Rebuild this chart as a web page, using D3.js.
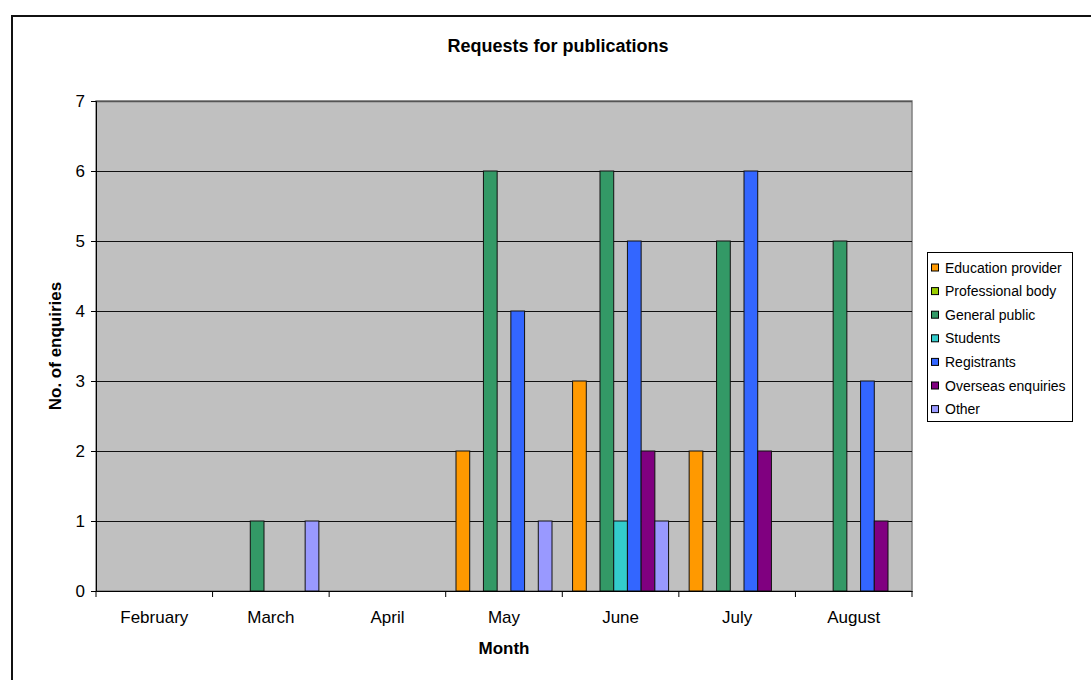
<!DOCTYPE html>
<html>
<head>
<meta charset="utf-8">
<script src="https://cdn.jsdelivr.net/npm/d3@7"></script>
<style>
  html, body { margin: 0; padding: 0; background: #fff; }
  svg { display: block; font-family: "Liberation Sans", Arial, sans-serif; }
</style>
</head>
<body>
<svg id="chart" width="1091" height="680"></svg>
<script>
// Monthly requests for publications, split by enquirer type
const months = ["February", "March", "April", "May", "June", "July", "August"];
const seriesNames = ["Education provider", "Professional body", "General public", "Students", "Registrants", "Overseas enquiries", "Other"];
const seriesColors = ["#FF9900", "#99CC00", "#339966", "#33CCCC", "#3366FF", "#800080", "#9999FF"];

// one array per series, one value per month
const educationProvider = [0, 0, 0, 2, 3, 2, 0];
const professionalBody  = [0, 0, 0, 0, 0, 0, 0];
const generalPublic     = [0, 1, 0, 6, 6, 5, 5];
const students          = [0, 0, 0, 0, 1, 0, 0];
const registrants       = [0, 0, 0, 4, 5, 6, 3];
const overseas          = [0, 0, 0, 0, 2, 2, 1];
const other             = [0, 1, 0, 1, 1, 0, 0];
const seriesValues = [educationProvider, professionalBody, generalPublic, students, registrants, overseas, other];

const yTicks = [0, 1, 2, 3, 4, 5, 6, 7];

const svg = d3.select("#chart");

// outer chart frame
svg.append("rect")
  .attr("x", 12).attr("y", 16)
  .attr("width", 1100).attr("height", 700)
  .attr("fill", "#fff")
  .attr("stroke", "#111").attr("stroke-width", 2);

const plot = { left: 96, right: 912, top: 101, bottom: 591 };

const x0 = d3.scaleBand().domain(months).range([plot.left, plot.right]).padding(0);
const x1 = d3.scaleBand().domain(seriesNames).range([0, x0.bandwidth()])
  .paddingInner(0).paddingOuter(0.75);
const y = d3.scaleLinear().domain([0, 7]).range([plot.bottom, plot.top]);

// plot area background
svg.append("rect")
  .attr("x", plot.left).attr("y", plot.top)
  .attr("width", plot.right - plot.left).attr("height", plot.bottom - plot.top)
  .attr("fill", "#C0C0C0")
  .attr("stroke", "#808080").attr("stroke-width", 1.5);

// horizontal gridlines
svg.append("g")
  .selectAll("line")
  .data(yTicks.filter(t => t > 0))
  .join("line")
  .attr("x1", plot.left).attr("x2", plot.right)
  .attr("y1", d => Math.round(y(d)) + 0.5).attr("y2", d => Math.round(y(d)) + 0.5)
  .attr("stroke", d => d === 7 ? "#555" : "#111")
  .attr("stroke-width", d => d === 7 ? 1.5 : 1);

// bars
const rows = [];
months.forEach((m, i) => {
  seriesNames.forEach((s, j) => {
    const v = seriesValues[j][i];
    if (v > 0) rows.push({ month: m, series: s, value: v, color: seriesColors[j] });
  });
});

svg.append("g")
  .selectAll("rect")
  .data(rows)
  .join("rect")
  .attr("x", d => x0(d.month) + x1(d.series))
  .attr("y", d => y(d.value))
  .attr("width", x1.bandwidth())
  .attr("height", d => y(0) - y(d.value))
  .attr("fill", d => d.color)
  .attr("stroke", "#111").attr("stroke-width", 1);

// y axis
const yAxis = svg.append("g")
  .attr("transform", `translate(${plot.left},0)`)
  .call(d3.axisLeft(y).tickValues(yTicks).tickSize(5).tickPadding(6).tickFormat(d3.format("d")));
yAxis.select(".domain").attr("stroke", "#000").attr("stroke-width", 1);
yAxis.selectAll(".tick line").attr("stroke", "#000");
yAxis.selectAll("text").attr("font-size", 17).attr("fill", "#000")
  .attr("font-family", "Liberation Sans, Arial, sans-serif");

// x axis with ticks at category boundaries
const xAxis = svg.append("g")
  .attr("transform", `translate(0,${plot.bottom})`)
  .call(d3.axisBottom(x0).tickSize(0).tickPadding(20));
xAxis.select(".domain").attr("stroke", "#000").attr("stroke-width", 1);
xAxis.selectAll("text").attr("font-size", 17).attr("fill", "#000")
  .attr("font-family", "Liberation Sans, Arial, sans-serif");
xAxis.append("g")
  .selectAll("line")
  .data(months.map(m => x0(m)).concat([plot.right]))
  .join("line")
  .attr("x1", d => d).attr("x2", d => d)
  .attr("y1", 0).attr("y2", 6)
  .attr("stroke", "#000");

// titles
svg.append("text")
  .attr("x", 558).attr("y", 52)
  .attr("text-anchor", "middle")
  .attr("font-size", 18).attr("font-weight", "bold")
  .text("Requests for publications");

svg.append("text")
  .attr("x", 504).attr("y", 654)
  .attr("text-anchor", "middle")
  .attr("font-size", 17).attr("font-weight", "bold")
  .text("Month");

svg.append("text")
  .attr("transform", "translate(61,346) rotate(-90)")
  .attr("text-anchor", "middle")
  .attr("font-size", 17).attr("font-weight", "bold")
  .text("No. of enquiries");

// legend
const legend = svg.append("g").attr("transform", "translate(927,252)");
legend.append("rect")
  .attr("x", 0.5).attr("y", 0.5)
  .attr("width", 145).attr("height", 169)
  .attr("fill", "#fff").attr("stroke", "#000").attr("stroke-width", 1);

const item = legend.selectAll("g.item")
  .data(seriesNames)
  .join("g")
  .attr("class", "item")
  .attr("transform", (d, i) => `translate(0,${15.5 + i * 23.6})`);
item.append("rect")
  .attr("x", 4.5).attr("y", -3.5)
  .attr("width", 7).attr("height", 7)
  .attr("fill", (d, i) => seriesColors[i])
  .attr("stroke", "#000").attr("stroke-width", 1);
item.append("text")
  .attr("x", 18).attr("y", 5)
  .attr("font-size", 14)
  .text(d => d);
</script>
</body>
</html>
